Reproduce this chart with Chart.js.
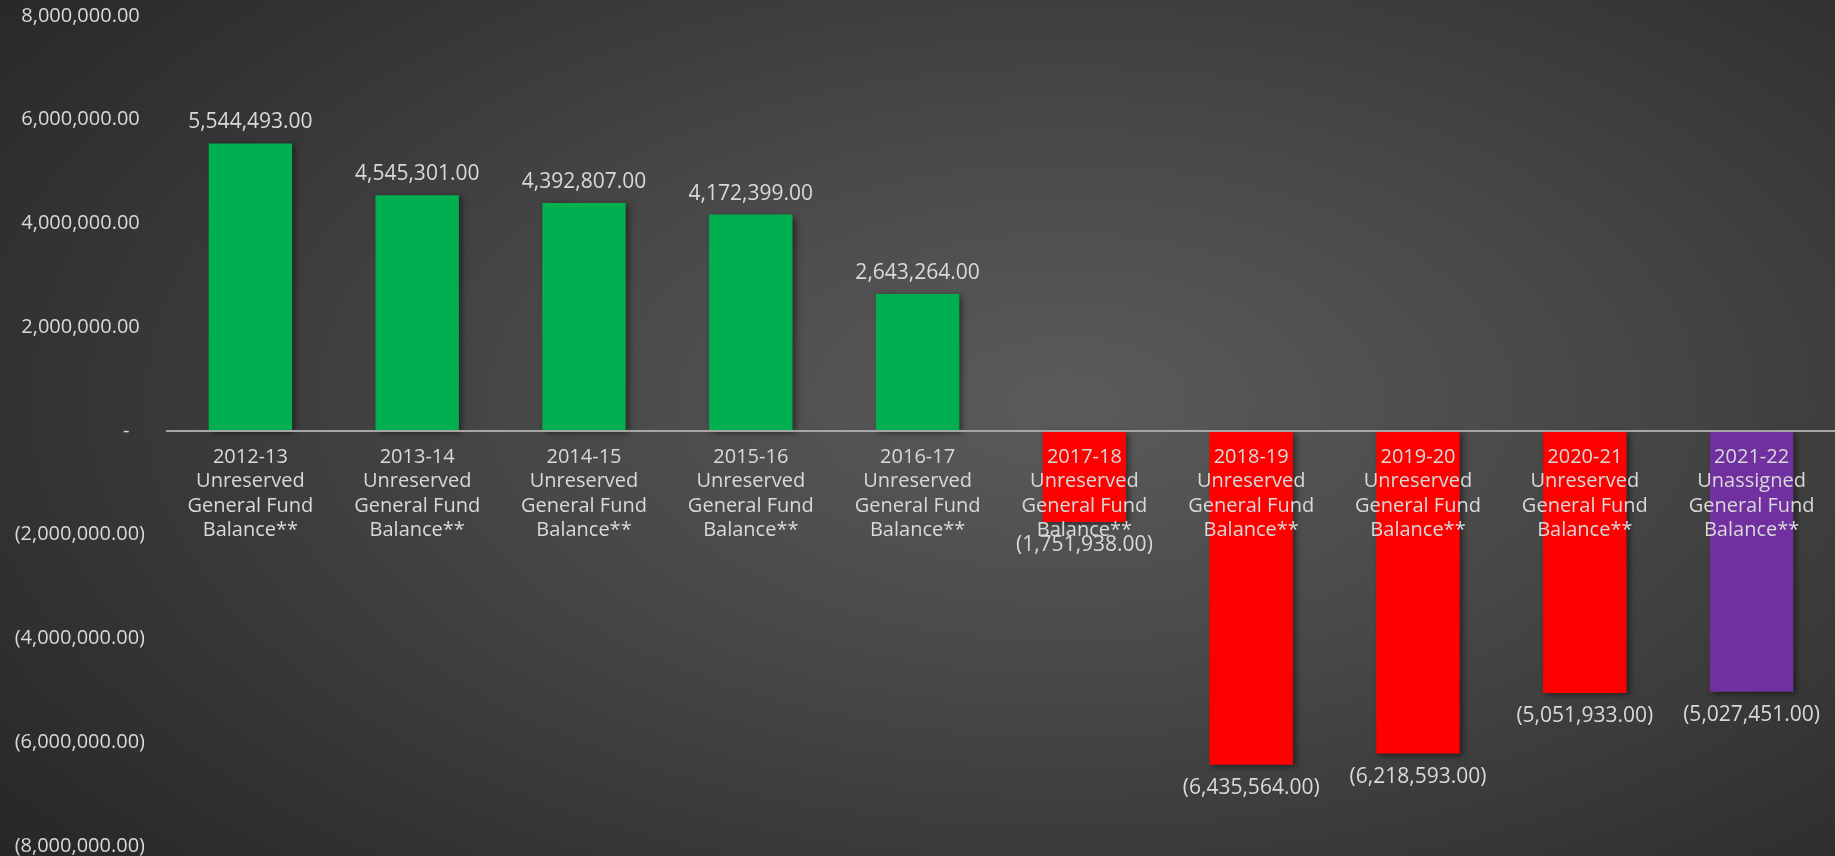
<!DOCTYPE html>
<html>
<head>
<meta charset="utf-8">
<script src="https://cdn.jsdelivr.net/npm/chart.js@4.4.1/dist/chart.umd.min.js"></script>
<style>
  html, body { margin: 0; padding: 0; width: 1835px; height: 856px; overflow: hidden; }
  body { position: relative; background: radial-gradient(ellipse 75% 85% at 58% 47%, #5b5b5b 0%, #474747 40%, #333333 75%, #262626 100%); }
  #wrap { position: absolute; left: 0; top: -18px; width: 1835px; height: 898px; }
</style>
</head>
<body>
<div id="wrap"><canvas id="fundChart"></canvas></div>
<script>
// -------------------- Data --------------------
const years = ['2012-13', '2013-14', '2014-15', '2015-16', '2016-17', '2017-18', '2018-19', '2019-20', '2020-21', '2021-22'];
const kinds = ['Unreserved', 'Unreserved', 'Unreserved', 'Unreserved', 'Unreserved', 'Unreserved', 'Unreserved', 'Unreserved', 'Unreserved', 'Unassigned'];
const balances = [5544493, 4545301, 4392807, 4172399, 2643264, -1751938, -6435564, -6218593, -5051933, -5027451];
const barColors = ['#00B050', '#00B050', '#00B050', '#00B050', '#00B050', '#FF0000', '#FF0000', '#FF0000', '#FF0000', '#7030A0'];

const labelColor = '#d9d9d9';
const fontFamily = '"Open Sans", Lato, sans-serif';

// -------------------- Helpers --------------------
function fmtAcct(v) {
  if (v === 0) return '-   ';
  const s = Math.abs(v).toLocaleString('en-US', { minimumFractionDigits: 2, maximumFractionDigits: 2 });
  return v < 0 ? '(' + s + ')' : s + ' ';
}

const categoryLabels = years.map((y, i) => [y, kinds[i], 'General Fund', 'Balance**']);

// soft shadow behind the bars
const barShadow = {
  id: 'barShadow',
  beforeDatasetsDraw(chart) {
    const ctx = chart.ctx;
    ctx.save();
    ctx.shadowColor = 'rgba(0,0,0,0.45)';
    ctx.shadowBlur = 6;
    ctx.shadowOffsetX = 3;
    ctx.shadowOffsetY = 2;
  },
  afterDatasetsDraw(chart) {
    chart.ctx.restore();
  }
};

// value labels above / below each bar
const valueLabels = {
  id: 'valueLabels',
  afterDraw(chart) {
    const ctx = chart.ctx;
    const meta = chart.getDatasetMeta(0);
    ctx.save();
    ctx.font = '21px ' + fontFamily;
    ctx.fillStyle = labelColor;
    ctx.textAlign = 'center';
    ctx.textBaseline = 'middle';
    meta.data.forEach((bar, i) => {
      const v = balances[i];
      const y = v >= 0 ? bar.y - 21 : bar.y + 23;
      ctx.fillText(fmtAcct(v).trim(), bar.x, y);
    });
    ctx.restore();
  }
};

// -------------------- Chart --------------------
const chart = new Chart(document.getElementById('fundChart'), {
  type: 'bar',
  data: {
    labels: categoryLabels,
    datasets: [{
      data: balances,
      backgroundColor: barColors,
      borderWidth: 0,
      barPercentage: 0.5,
      categoryPercentage: 1.0
    }]
  },
  options: {
    responsive: true,
    maintainAspectRatio: false,
    animation: false,
    layout: { padding: 0 },
    plugins: {
      legend: { display: false },
      tooltip: { enabled: false }
    },
    scales: {
      x: {
        position: { y: 0 },
        grid: { display: false, drawTicks: false },
        border: { display: true, color: '#a6a6a6', width: 2, z: 1 },
        ticks: {
          z: 1,
          color: labelColor,
          font: { family: fontFamily, size: 20, lineHeight: 1.22 },
          padding: 14,
          maxRotation: 0,
          autoSkip: false
        }
      },
      y: {
        min: -8000000,
        max: 8000000,
        afterFit: s => { s.width = 167; },
        grid: { display: false, drawTicks: false },
        border: { display: false },
        ticks: {
          stepSize: 2000000,
          color: labelColor,
          padding: 22,
          font: { family: fontFamily, size: 20 },
          callback: v => fmtAcct(v)
        }
      }
    }
  },
  plugins: [barShadow, valueLabels]
});
</script>
</body>
</html>
